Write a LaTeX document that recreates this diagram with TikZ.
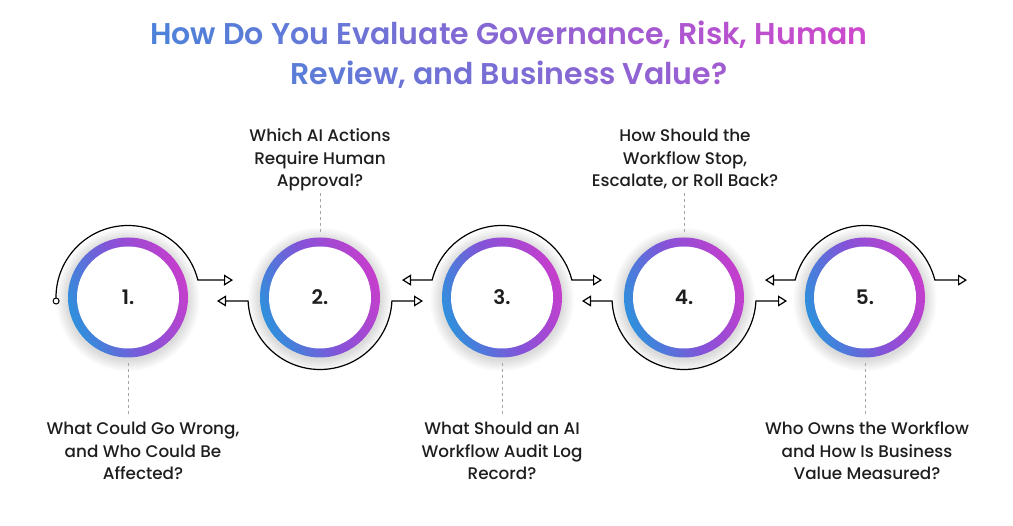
\documentclass[tikz,border=0pt]{standalone}
\usepackage{fontspec}
\usetikzlibrary{arrows.meta,calc}
\newfontfamily\labfont{Poppins}[UprightFont={* Medium}, BoldFont={* SemiBold}]
\definecolor{tblue}{HTML}{4A84DA}
\definecolor{tmag}{HTML}{CC48CC}
\definecolor{rblue}{HTML}{2E90DC}
\definecolor{rpurp}{HTML}{8552D8}
\definecolor{rmag}{HTML}{C63ECC}
\definecolor{txt}{HTML}{1E1E1E}
\ExplSyntaxOn
\int_new:N \l_gt_i_int
\int_new:N \l_gt_n_int
\int_new:N \l_gt_a_int
\int_new:N \l_gt_b_int
\seq_new:N \l_gt_seq
\bool_new:N \l_gt_first_bool
\cs_new_protected:Npn \gt_word:n #1
  {
    \tl_map_inline:nn {#1}
      {
        \int_incr:N \l_gt_i_int
        \textcolor{tmag!\int_eval:n{\l_gt_a_int+(\l_gt_b_int-\l_gt_a_int)*\l_gt_i_int/\l_gt_n_int}!tblue}{##1}
      }
  }
\NewDocumentCommand\gradtext{mmm}
  {
    \int_set:Nn \l_gt_a_int {#1}
    \int_set:Nn \l_gt_b_int {#2}
    \int_set:Nn \l_gt_n_int {\tl_count:n {#3}}
    \int_zero:N \l_gt_i_int
    \seq_set_split:Nnn \l_gt_seq {~} {#3}
    \bool_set_true:N \l_gt_first_bool
    \seq_map_inline:Nn \l_gt_seq
      {
        \bool_if:NF \l_gt_first_bool {~}
        \bool_set_false:N \l_gt_first_bool
        \gt_word:n {##1}
      }
  }
\ExplSyntaxOff
\begin{document}
\begin{tikzpicture}[x=1pt,y=1pt,
  conn/.style={line width=1.2pt, black},
  tipa/.style={-{Triangle[open,length=9pt,width=11pt,line width=1.2pt]}},
  tipb/.style={{Triangle[open,length=9pt,width=11pt,line width=1.2pt]}-{Triangle[open,length=9pt,width=11pt,line width=1.2pt]}},
  dashline/.style={gray!70, line width=0.7pt, dash pattern=on 3pt off 3pt},
  lab/.style={font=\labfont\fontsize{16.8}{22.7}\selectfont, text=txt, align=center, inner sep=0pt},
  num/.style={circle, minimum size=120pt, inner sep=0pt, font=\labfont\bfseries\fontsize{20}{20}\selectfont, text=txt}]
\useasboundingbox (0,0) rectangle (1013,526);
\fill[white] (0,0) rectangle (1013,526);

% title
\node[font=\labfont\bfseries\fontsize{30}{40}\selectfont, align=center, inner sep=0pt, anchor=base] (title) at (509,441)
  {\gradtext{0}{100}{How Do You Evaluate Governance, Risk, Human}\\\gradtext{10}{65}{Review, and Business Value?}};

% rings
\foreach \n/\x in {1/128,2/320,3/502,4/684,5/865}{
  \foreach \r in {61,62,...,72}{
    \fill[black, opacity=0.012] (\x,226.5) circle[radius=\r];
  }
  \shade[left color=rblue, right color=rmag, middle color=rpurp, shading angle=110] (\x,228.5) circle[radius=60];
  \fill[white] (\x,228.5) circle[radius=51];
  \node[num] (c\n) at (\x,228.5) {\n.};
}

% arrow end coordinates
\coordinate (t1r) at (233,245.9);
\coordinate (t2l) at (217,225.0);
\coordinate (t2r) at (423,225.0);
\coordinate (t3l) at (402,245.9);
\coordinate (t3r) at (602,245.9);
\coordinate (t4l) at (582,225.0);
\coordinate (t4r) at (787,225.0);
\coordinate (t5l) at (765,245.9);
\coordinate (t5r) at (967,245.9);

% connectors
\draw[conn, tipa] ($(c1.center)+(182.8:72)$) coordinate (s1) arc[start angle=182.8, end angle=14, radius=72] -- (t1r);
\node[circle, draw, line width=1pt, fill=white, inner sep=0pt, minimum size=6pt] (d1) at (s1) {};
\draw[conn, tipb] (t2l) -- ($(c2.center)+(182.8:72)$) arc[start angle=182.8, end angle=357.2, radius=72] -- (t2r);
\draw[conn, tipb] (t3l) -- ($(c3.center)+(166:72)$) arc[start angle=166, end angle=14, radius=72] -- (t3r);
\draw[conn, tipb] (t4l) -- ($(c4.center)+(182.8:72)$) arc[start angle=182.8, end angle=357.2, radius=72] -- (t4r);
\draw[conn, tipb] (t5l) -- ($(c5.center)+(166:72)$) arc[start angle=166, end angle=14, radius=72] -- (t5r);

% labels
\node[lab, anchor=base] (l1) at (143,46) {What Could Go Wrong,\\and Who Could Be\\Affected?};
\node[lab, anchor=base] (l2) at (320,339) {Which AI Actions\\Require Human\\Approval?};
\node[lab, anchor=base] (l3) at (502,46) {What Should an AI\\Workflow Audit Log\\Record?};
\node[lab, anchor=base] (l4) at (685,339) {How Should the\\Workflow Stop,\\Escalate, or Roll Back?};
\node[lab, anchor=base] (l5) at (867,46) {Who Owns the Workflow\\and How Is Business\\Value Measured?};

% dashed leaders
\draw[dashline] ($(c1.south)+(0,-5)$) -- (c1 |- 0,110);
\draw[dashline] ($(c3.south)+(0,-5)$) -- (c3 |- 0,110);
\draw[dashline] ($(c5.south)+(0,-5)$) -- (c5 |- 0,110);
\draw[dashline] ($(c2.north)+(0,5)$) -- (c2 |- 0,334);
\draw[dashline] ($(c4.north)+(0,5)$) -- (c4 |- 0,334);
\end{tikzpicture}
\end{document}
